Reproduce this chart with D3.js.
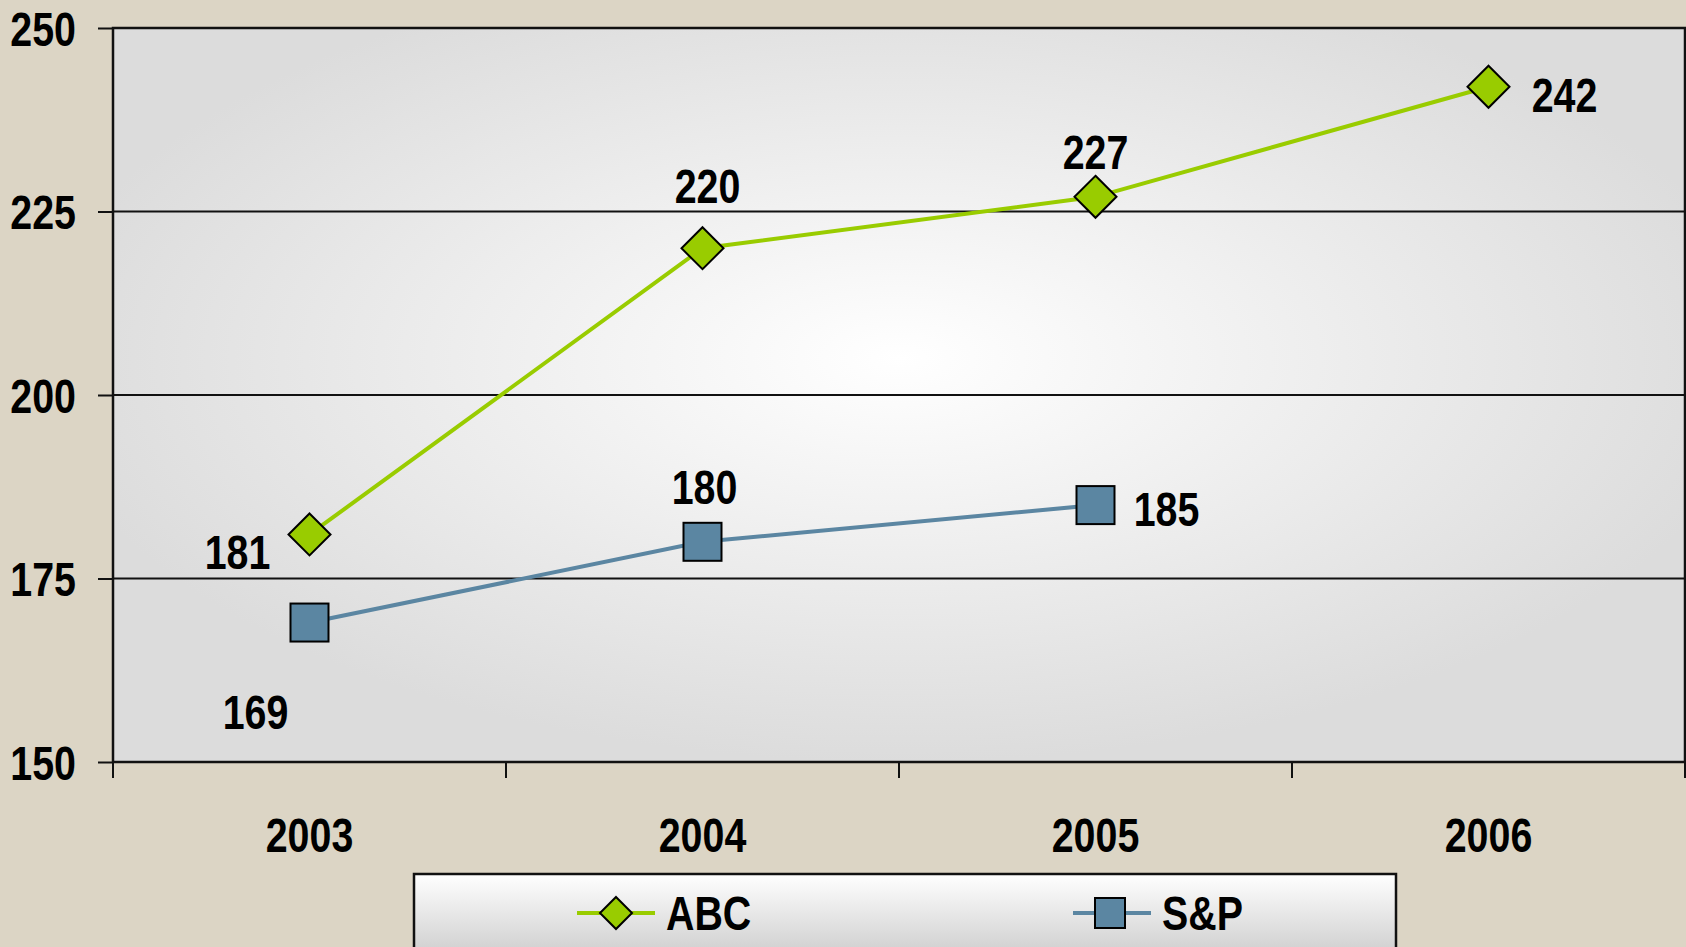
<!DOCTYPE html>
<html>
<head>
<meta charset="utf-8">
<script src="https://cdn.jsdelivr.net/npm/d3@7"></script>
<style>
  html, body { margin: 0; padding: 0; background: #dcd5c5; }
  svg { display: block; }
  text { font-family: "Liberation Sans", Arial, sans-serif; font-weight: bold; fill: #000; }
</style>
</head>
<body>
<div id="chart"></div>
<script>
var fullwidth = 1686;
var fullheight = 947;

var years = ["2003", "2004", "2005", "2006"];
var abcValues = [181, 220, 227, 242];
var spValues = [169, 180, 185];
var yTicks = [150, 175, 200, 225, 250];
var seriesNames = ["ABC", "S&P"];

// hand placed data labels, centre of the text relative to the marker (dx, dy of baseline)
var abcLabelOffsets = [[-72, 35], [5, -45], [0, -28], [76, 25]];
var spLabelOffsets = [[-54, 106], [2, -38], [71, 21]];

var plot = {left: 113, right: 1685, top: 28, bottom: 762};
var narrow = 0.82;   // squeeze to look like Arial Narrow

var svg = d3.select("#chart").append("svg")
    .attr("width", fullwidth)
    .attr("height", fullheight);

var defs = svg.append("defs");

var rg = defs.append("radialGradient")
    .attr("id", "plotfill")
    .attr("cx", "50%").attr("cy", "45%").attr("r", "55%");
rg.append("stop").attr("offset", "0%").attr("stop-color", "#ffffff");
rg.append("stop").attr("offset", "100%").attr("stop-color", "#dcdcdc");

var lg = defs.append("linearGradient")
    .attr("id", "legendfill")
    .attr("x1", 0).attr("y1", 0).attr("x2", 0).attr("y2", 1);
lg.append("stop").attr("offset", "0%").attr("stop-color", "#ffffff");
lg.append("stop").attr("offset", "100%").attr("stop-color", "#bdbdbd");

svg.append("rect")
    .attr("width", fullwidth)
    .attr("height", fullheight)
    .attr("fill", "#dcd5c5");

var xScale = d3.scaleBand()
    .domain(years)
    .range([plot.left, plot.right])
    .padding(0);

var yScale = d3.scaleLinear()
    .domain([150, 250])
    .range([plot.bottom, plot.top]);

function cx(i) { return xScale(years[i]) + xScale.bandwidth() / 2; }

// text placed at (x, y) and squeezed horizontally
function squeeze(x, y) { return "translate(" + x + "," + y + ") scale(" + narrow + ",1)"; }

// plot area
svg.append("rect")
    .attr("x", plot.left)
    .attr("y", plot.top)
    .attr("width", plot.right - plot.left)
    .attr("height", plot.bottom - plot.top)
    .attr("fill", "url(#plotfill)");

// gridlines
svg.selectAll("line.grid")
    .data(yTicks.slice(1))
    .enter()
    .append("line")
    .attr("class", "grid")
    .attr("x1", plot.left)
    .attr("x2", plot.right)
    .attr("y1", function(d) { return yScale(d); })
    .attr("y2", function(d) { return yScale(d); })
    .attr("stroke", "#111")
    .attr("stroke-width", 2);

// y axis
var yAxis = d3.axisLeft(yScale)
    .tickValues(yTicks)
    .tickSize(15)
    .tickPadding(22);

var gy = svg.append("g")
    .attr("transform", "translate(" + plot.left + ",0)")
    .call(yAxis);
gy.select(".domain").remove();
gy.selectAll(".tick line").attr("stroke", "#111").attr("stroke-width", 2);
gy.selectAll(".tick text")
    .attr("font-size", 48)
    .attr("font-family", null)
    .attr("x", 0)
    .attr("dy", "0.36em")
    .attr("transform", squeeze(-37, 0));

// x axis
var xAxis = d3.axisBottom(xScale)
    .tickSize(0)
    .tickPadding(0);

var gx = svg.append("g")
    .attr("transform", "translate(0," + plot.bottom + ")")
    .call(xAxis);
gx.select(".domain").remove();
gx.selectAll(".tick text")
    .attr("font-size", 48)
    .attr("font-family", null)
    .attr("y", 0)
    .attr("dy", 0)
    .attr("transform", squeeze(0, 90));

// x ticks on band boundaries
var bounds = years.map(function(y) { return xScale(y); }).concat([plot.right]);
svg.selectAll("line.xtick")
    .data(bounds)
    .enter()
    .append("line")
    .attr("class", "xtick")
    .attr("x1", function(d) { return d; })
    .attr("x2", function(d) { return d; })
    .attr("y1", plot.bottom)
    .attr("y2", plot.bottom + 16)
    .attr("stroke", "#111")
    .attr("stroke-width", 2);

// plot border (left, top, right, bottom)
svg.append("path")
    .attr("d", "M" + plot.left + "," + plot.bottom + "V" + plot.top + "H" + plot.right + "V" + plot.bottom + "H" + plot.left)
    .attr("fill", "none")
    .attr("stroke", "#111")
    .attr("stroke-width", 2.5);

var line = d3.line()
    .x(function(d, i) { return cx(i); })
    .y(function(d) { return yScale(d); });

var green = "#99cc00";
var blue = "#5b86a2";

svg.append("path")
    .datum(abcValues)
    .attr("d", line)
    .attr("fill", "none")
    .attr("stroke", green)
    .attr("stroke-width", 4);

svg.append("path")
    .datum(spValues)
    .attr("d", line)
    .attr("fill", "none")
    .attr("stroke", blue)
    .attr("stroke-width", 4);

function diamond(r) { return "M0," + (-r) + "L" + r + ",0L0," + r + "L" + (-r) + ",0Z"; }

svg.selectAll("path.abc")
    .data(abcValues)
    .enter()
    .append("path")
    .attr("class", "abc")
    .attr("d", diamond(21))
    .attr("transform", function(d, i) { return "translate(" + cx(i) + "," + yScale(d) + ")"; })
    .attr("fill", green)
    .attr("stroke", "#000")
    .attr("stroke-width", 2);

svg.selectAll("rect.sp")
    .data(spValues)
    .enter()
    .append("rect")
    .attr("class", "sp")
    .attr("x", function(d, i) { return cx(i) - 19; })
    .attr("y", function(d) { return yScale(d) - 19; })
    .attr("width", 38)
    .attr("height", 38)
    .attr("fill", blue)
    .attr("stroke", "#000")
    .attr("stroke-width", 2);

function drawLabels(values, offsets, cls) {
    svg.selectAll("text." + cls)
        .data(values)
        .enter()
        .append("text")
        .attr("class", cls)
        .attr("transform", function(d, i) {
            return squeeze(cx(i) + offsets[i][0], yScale(d) + offsets[i][1]);
        })
        .attr("text-anchor", "middle")
        .attr("font-size", 48)
        .text(function(d) { return d; });
}
drawLabels(abcValues, abcLabelOffsets, "abclabel");
drawLabels(spValues, spLabelOffsets, "splabel");

// legend
var legend = svg.append("g");
legend.append("rect")
    .attr("x", 414)
    .attr("y", 874)
    .attr("width", 982)
    .attr("height", 110)
    .attr("fill", "url(#legendfill)")
    .attr("stroke", "#111")
    .attr("stroke-width", 2.5);

var legendItems = [
    {name: seriesNames[0], x: 577, color: green, shape: "diamond"},
    {name: seriesNames[1], x: 1073, color: blue, shape: "square"}
];

legendItems.forEach(function(d) {
    var ly = 913;
    legend.append("line")
        .attr("x1", d.x).attr("x2", d.x + 78)
        .attr("y1", ly).attr("y2", ly)
        .attr("stroke", d.color)
        .attr("stroke-width", 4);
    if (d.shape === "diamond") {
        legend.append("path")
            .attr("d", diamond(16))
            .attr("transform", "translate(" + (d.x + 39) + "," + ly + ")")
            .attr("fill", d.color)
            .attr("stroke", "#000")
            .attr("stroke-width", 2);
    } else {
        legend.append("rect")
            .attr("x", d.x + 37 - 15).attr("y", ly - 15)
            .attr("width", 30).attr("height", 30)
            .attr("fill", d.color)
            .attr("stroke", "#000")
            .attr("stroke-width", 2);
    }
    legend.append("text")
        .attr("transform", squeeze(d.x + 89, 930))
        .attr("font-size", 48)
        .text(d.name);
});
</script>
</body>
</html>
